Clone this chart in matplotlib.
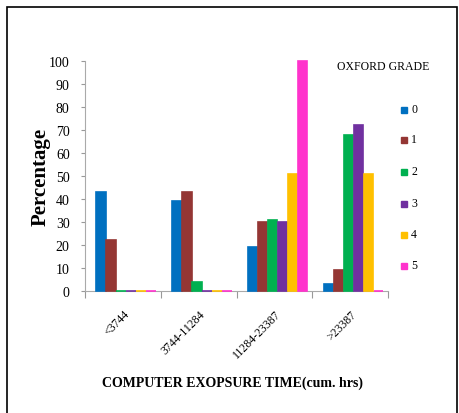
import matplotlib
matplotlib.use('Agg')
import matplotlib.pyplot as plt
from matplotlib.patches import Rectangle

# data
categories = ['<3744', '3744-11284', '11284-23387', '>23387']
grades = ['0', '1', '2', '3', '4', '5']
grade0 = [43, 39, 19, 3]
grade1 = [22, 43, 30, 9]
grade2 = [0, 4, 31, 68]
grade3 = [0, 0, 30, 72]
grade4 = [0, 0, 51, 51]
grade5 = [0, 0, 100, 0]
series = [grade0, grade1, grade2, grade3, grade4, grade5]
colors = ['#0070C0', '#943634', '#00B050', '#7030A0', '#FFC000', '#FF33CC']

plt.rcParams['font.family'] = ['Liberation Serif', 'DejaVu Serif']

fig = plt.figure(figsize=(4.59, 4.14), dpi=100)
ax = fig.add_axes([85 / 459, 1 - 292 / 414, 303 / 459, 230 / 414])

bar_w = 0.132
for k, vals in enumerate(series):
    xs = [i + 0.15 + k * bar_w for i in range(len(categories))]
    ax.bar(xs, vals, width=bar_w * 0.95, align='edge', color=colors[k],
           edgecolor=colors[k], linewidth=1.2, clip_on=False, zorder=3)

ax.set_xlim(0, 4)
ax.set_ylim(0, 100)
ax.set_yticks(range(0, 101, 10))
ax.tick_params(axis='y', labelsize=10, length=3, color='#999999', pad=8)

ax.set_xticks([0, 1, 2, 3, 4])
ax.set_xticklabels([])
ax.set_xticks([i + 0.5 for i in range(len(categories))], minor=True)
ax.set_xticklabels(categories, minor=True, rotation=45, ha='right',
                   rotation_mode='anchor', fontsize=8.5)
ax.tick_params(axis='x', which='major', length=5, color='#999999')
ax.tick_params(axis='x', which='minor', length=0, pad=12)

for s in ['top', 'right']:
    ax.spines[s].set_visible(False)
ax.spines['left'].set_color('#aaaaaa')
ax.spines['bottom'].set_color('#aaaaaa')

ax.set_ylabel('Percentage', fontsize=15, fontweight='bold')
ax.yaxis.set_label_coords(-0.115, 0.5)
fig.text(232 / 459, 1 - 383 / 414, 'COMPUTER EXOPSURE TIME(cum. hrs)',
         ha='center', va='center', fontsize=10, fontweight='bold')

# legend
fig.text(383 / 459, 1 - 67 / 414, 'OXFORD GRADE', ha='center', va='center',
         fontsize=8.5)
leg_y = [111, 141, 173, 205, 236, 267]
for k, g in enumerate(grades):
    y = 1 - leg_y[k] / 414
    fig.patches.append(Rectangle((401 / 459, y - 3 / 414), 6 / 459, 6 / 414,
                                 transform=fig.transFigure, color=colors[k]))
    fig.text(411 / 459, y + 1 / 414, g, ha='left', va='center', fontsize=8.5)

# outer frame
fig.patches.append(Rectangle((7 / 459, -0.01), 450 / 459, 1 - 8 / 414 + 0.01,
                             transform=fig.transFigure, fill=False,
                             edgecolor='black', linewidth=1.2))

fig.savefig('out.png', dpi=100)
